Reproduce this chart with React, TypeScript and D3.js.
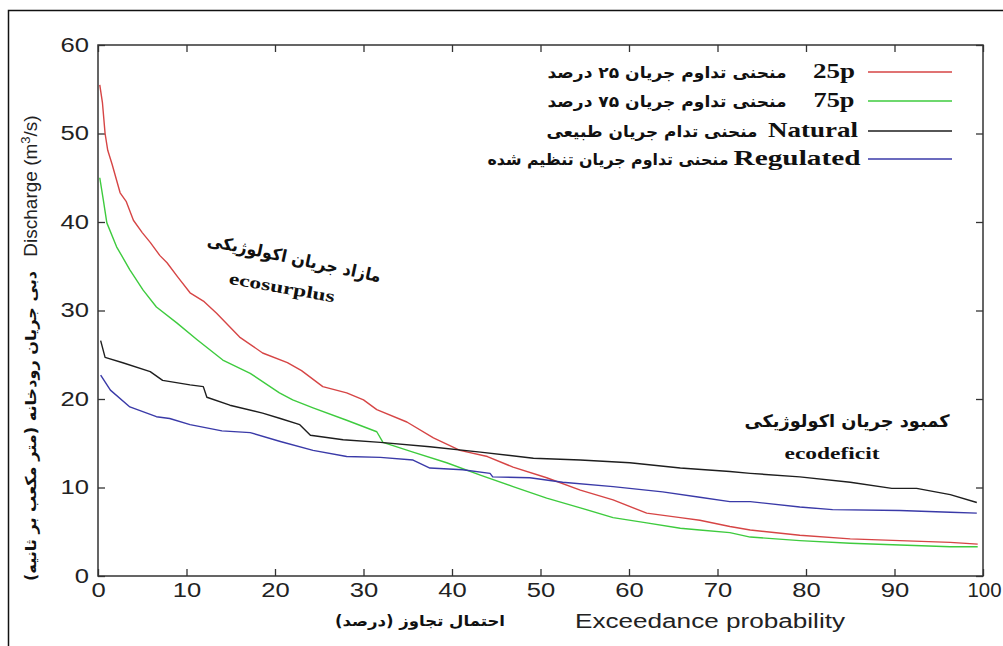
import React, { useEffect, useRef } from "react";
import * as d3 from "d3";

// exceedance probability (%) / discharge (m3/s)
var p25 = [0.2, 0.5, 0.8, 1.1, 1.6, 2.5, 3.2, 4, 5, 5.9, 7, 7.8, 9, 10.4, 12, 13.4, 16, 18.6, 21.4, 23, 25.4, 28.1, 30, 31.5, 34.9, 37.9, 40.9, 44, 46.9, 50.7, 54.5, 58.2, 62, 65.8, 68, 71.4, 73.7, 79.3, 85, 90.6, 96.3, 99.4];
var q25 = [55.5, 53.5, 50, 48.1, 46.5, 43.3, 42.3, 40.2, 38.8, 37.7, 36.2, 35.4, 33.8, 32, 31, 29.7, 27, 25.2, 24.1, 23.2, 21.4, 20.7, 19.9, 18.8, 17.4, 15.6, 14.2, 13.5, 12.3, 11.1, 9.7, 8.6, 7.1, 6.6, 6.3, 5.6, 5.2, 4.6, 4.2, 4.0, 3.8, 3.6];

var p75 = [0.2, 0.6, 1, 2.1, 3.6, 5.1, 6.6, 8.9, 11.2, 14.1, 17.2, 20.5, 22, 24.3, 28.1, 31.5, 32.2, 35.6, 39.4, 43.2, 46.9, 50.7, 54.5, 58.2, 62, 65.8, 68, 71.4, 73.7, 79.3, 85, 90.6, 96.3, 99.4];
var q75 = [45, 42.5, 39.9, 37.2, 34.6, 32.3, 30.4, 28.6, 26.7, 24.4, 22.9, 20.7, 19.9, 19, 17.6, 16.3, 15.1, 14, 12.8, 11.4, 10.1, 8.8, 7.7, 6.6, 6.0, 5.4, 5.2, 4.9, 4.4, 4.0, 3.7, 3.5, 3.3, 3.3];

var pNat = [0.3, 0.8, 2.8, 5.9, 7.3, 10.4, 11.9, 12.3, 14.9, 18.6, 20.6, 22.8, 24, 27.7, 31.9, 37.5, 43.2, 49.2, 54.5, 60.1, 65.8, 71.4, 73.7, 79.3, 85, 89.7, 92.5, 96.3, 99.3];
var qNat = [26.6, 24.7, 24.1, 23.1, 22.1, 21.6, 21.4, 20.2, 19.3, 18.4, 17.8, 17.1, 15.9, 15.4, 15.1, 14.6, 14, 13.3, 13.1, 12.8, 12.2, 11.8, 11.6, 11.2, 10.6, 9.9, 9.9, 9.2, 8.3];

var pReg = [0.3, 1.4, 3.6, 6.6, 8.1, 10.4, 14, 17.2, 20.6, 24.3, 28.1, 31.9, 35.6, 37.5, 41.2, 44.3, 44.6, 48.8, 52.5, 58.2, 63.8, 68, 71.4, 73.7, 79.3, 83, 90.6, 96.3, 99.3];
var qReg = [22.7, 21, 19.1, 18, 17.8, 17.1, 16.4, 16.2, 15.2, 14.2, 13.5, 13.4, 13.1, 12.2, 12, 11.6, 11.2, 11.1, 10.6, 10.1, 9.5, 8.9, 8.4, 8.4, 7.8, 7.5, 7.4, 7.2, 7.1];

var xTicks = [0, 10, 20, 30, 40, 50, 60, 70, 80, 90, 100];
var yTicks = [0, 10, 20, 30, 40, 50, 60];

var seriesNames = ["25p", "75p", "Natural", "Regulated"];
var seriesFa = [
  "منحنی تداوم جریان ۲۵ درصد",
  "منحنی تداوم جریان ۷۵ درصد",
  "منحنی تدام جریان طبیعی",
  "منحنی تداوم جریان تنظیم شده"
];
var seriesColors = ["#d64545", "#3ecb3e", "#1e1e1e", "#3a3aa8"];

var faFont = "'DejaVu Sans', sans-serif";
var serifFont = "'Liberation Serif', serif";
var sansFont = "'Liberation Sans', Arial, sans-serif";

export default function App() {
  var ref = useRef(null);

  useEffect(() => {
    var svg = d3.select(ref.current);
    svg.selectAll("*").remove();

    var left = 98, right = 983, top = 45, bottom = 576;
    var x = d3.scaleLinear().domain([0, 100]).range([left, right]);
    var y = d3.scaleLinear().domain([0, 60]).range([bottom, top]);

    svg.append("rect").attr("width", 1003).attr("height", 646).attr("fill", "#fff");

    // outer frame (left and top edge visible)
    svg.append("path")
      .attr("d", "M8.5,646V10.5H1003")
      .attr("fill", "none")
      .attr("stroke", "#111")
      .attr("stroke-width", 1.5);

    // axes, ticks inward on all sides
    var gl = svg.append("g").attr("transform", `translate(${left},0)`)
      .call(d3.axisLeft(y).tickValues(yTicks).tickSize(-7).tickPadding(7));
    var gb = svg.append("g").attr("transform", `translate(0,${bottom})`)
      .call(d3.axisBottom(x).tickValues(xTicks).tickSize(-7).tickPadding(7));
    svg.append("g").attr("transform", `translate(${right},0)`)
      .call(d3.axisRight(y).tickValues(yTicks).tickSize(-7).tickFormat(() => ""));
    svg.append("g").attr("transform", `translate(0,${top})`)
      .call(d3.axisTop(x).tickValues(xTicks).tickSize(-7).tickFormat(() => ""));
    svg.selectAll(".domain").remove();
    svg.selectAll(".tick line").attr("stroke", "#333").attr("stroke-width", 1.3);
    svg.selectAll(".tick text")
      .attr("font-family", sansFont)
      .attr("font-size", 20)
      .attr("fill", "#222");
    gl.selectAll(".tick text").attr("transform", "scale(1.28,1)");
    gb.selectAll(".tick text").attr("transform", d => (d === 100 ? "translate(1,0) scale(1.02,1)" : "scale(1.28,1)"));

    svg.append("rect")
      .attr("x", left).attr("y", top)
      .attr("width", right - left).attr("height", bottom - top)
      .attr("fill", "none")
      .attr("stroke", "#333")
      .attr("stroke-width", 1.5);

    // curves
    var line = d3.line().x(d => x(d[0])).y(d => y(d[1])).curve(d3.curveLinear);
    var series = [
      d3.zip(p25, q25),
      d3.zip(p75, q75),
      d3.zip(pNat, qNat),
      d3.zip(pReg, qReg)
    ];
    series.forEach((s, i) => {
      svg.append("path")
        .attr("d", line(s))
        .attr("fill", "none")
        .attr("stroke", seriesColors[i])
        .attr("stroke-width", 1.4)
        .attr("stroke-linejoin", "round");
    });

    // legend
    var rowY = [72, 101, 131, 159];
    var enX = [834, 834, 813, 797];
    var enLen = [42, 41, 90, 127];
    var faX = [667, 667, 652, 608];
    var faLen = [239, 239, 211, 241];
    rowY.forEach((ry, i) => {
      svg.append("line")
        .attr("x1", 868).attr("x2", 952)
        .attr("y1", ry).attr("y2", ry)
        .attr("stroke", seriesColors[i])
        .attr("stroke-width", 1.4);
      svg.append("text")
        .attr("x", enX[i]).attr("y", ry + 6)
        .attr("text-anchor", "middle")
        .attr("font-family", serifFont)
        .attr("font-weight", "bold")
        .attr("font-size", 21)
        .attr("fill", "#111")
        .attr("textLength", enLen[i])
        .attr("lengthAdjust", "spacingAndGlyphs")
        .text(seriesNames[i]);
      svg.append("text")
        .attr("x", faX[i]).attr("y", ry + 6)
        .attr("text-anchor", "middle")
        .attr("direction", "rtl")
        .attr("font-family", faFont)
        .attr("font-weight", "bold")
        .attr("font-size", 16)
        .attr("fill", "#111")
        .attr("textLength", faLen[i])
        .attr("lengthAdjust", "spacingAndGlyphs")
        .text(seriesFa[i]);
    });

    // axis titles
    var yt = svg.append("text")
      .attr("transform", "translate(37,186) rotate(-90)")
      .attr("text-anchor", "middle")
      .attr("font-family", sansFont)
      .attr("font-size", 19)
      .attr("fill", "#222");
    yt.append("tspan").text("Discharge (m");
    yt.append("tspan").attr("font-size", 13).attr("dy", -7).text("3");
    yt.append("tspan").attr("dy", 7).text("/s)");

    svg.append("text")
      .attr("transform", "translate(36,426) rotate(-90)")
      .attr("text-anchor", "middle")
      .attr("direction", "rtl")
      .attr("font-family", faFont)
      .attr("font-weight", "bold")
      .attr("font-size", 15)
      .attr("fill", "#111")
      .attr("textLength", 310)
      .attr("lengthAdjust", "spacingAndGlyphs")
      .text("دبی جریان رودخانه (متر مکعب بر ثانیه)");

    svg.append("text")
      .attr("x", 710).attr("y", 628)
      .attr("text-anchor", "middle")
      .attr("font-family", sansFont)
      .attr("font-size", 20)
      .attr("fill", "#222")
      .attr("textLength", 270)
      .attr("lengthAdjust", "spacingAndGlyphs")
      .text("Exceedance probability");

    svg.append("text")
      .attr("x", 420).attr("y", 626)
      .attr("text-anchor", "middle")
      .attr("direction", "rtl")
      .attr("font-family", faFont)
      .attr("font-weight", "bold")
      .attr("font-size", 15)
      .attr("fill", "#111")
      .attr("textLength", 170)
      .attr("lengthAdjust", "spacingAndGlyphs")
      .text("احتمال تجاوز (درصد)");

    // annotations
    svg.append("text")
      .attr("transform", "translate(293,264) rotate(12)")
      .attr("text-anchor", "middle")
      .attr("direction", "rtl")
      .attr("font-family", faFont)
      .attr("font-weight", "bold")
      .attr("font-size", 17)
      .attr("fill", "#111")
      .attr("textLength", 177)
      .attr("lengthAdjust", "spacingAndGlyphs")
      .text("مازاد جریان اکولوژیکی");

    svg.append("text")
      .attr("transform", "translate(281,293) rotate(10)")
      .attr("text-anchor", "middle")
      .attr("font-family", serifFont)
      .attr("font-weight", "bold")
      .attr("font-size", 17)
      .attr("fill", "#111")
      .attr("textLength", 107)
      .attr("lengthAdjust", "spacingAndGlyphs")
      .text("ecosurplus");

    svg.append("text")
      .attr("x", 847).attr("y", 427)
      .attr("text-anchor", "middle")
      .attr("direction", "rtl")
      .attr("font-family", faFont)
      .attr("font-weight", "bold")
      .attr("font-size", 17)
      .attr("fill", "#111")
      .attr("textLength", 205)
      .attr("lengthAdjust", "spacingAndGlyphs")
      .text("کمبود جریان اکولوژیکی");

    svg.append("text")
      .attr("x", 832).attr("y", 459)
      .attr("text-anchor", "middle")
      .attr("font-family", serifFont)
      .attr("font-weight", "bold")
      .attr("font-size", 17)
      .attr("fill", "#111")
      .attr("textLength", 95)
      .attr("lengthAdjust", "spacingAndGlyphs")
      .text("ecodeficit");
  }, []);

  return (
    <svg
      ref={ref}
      width={1003}
      height={646}
      style={{ position: "absolute", left: 0, top: 0, display: "block" }}
    />
  );
}
